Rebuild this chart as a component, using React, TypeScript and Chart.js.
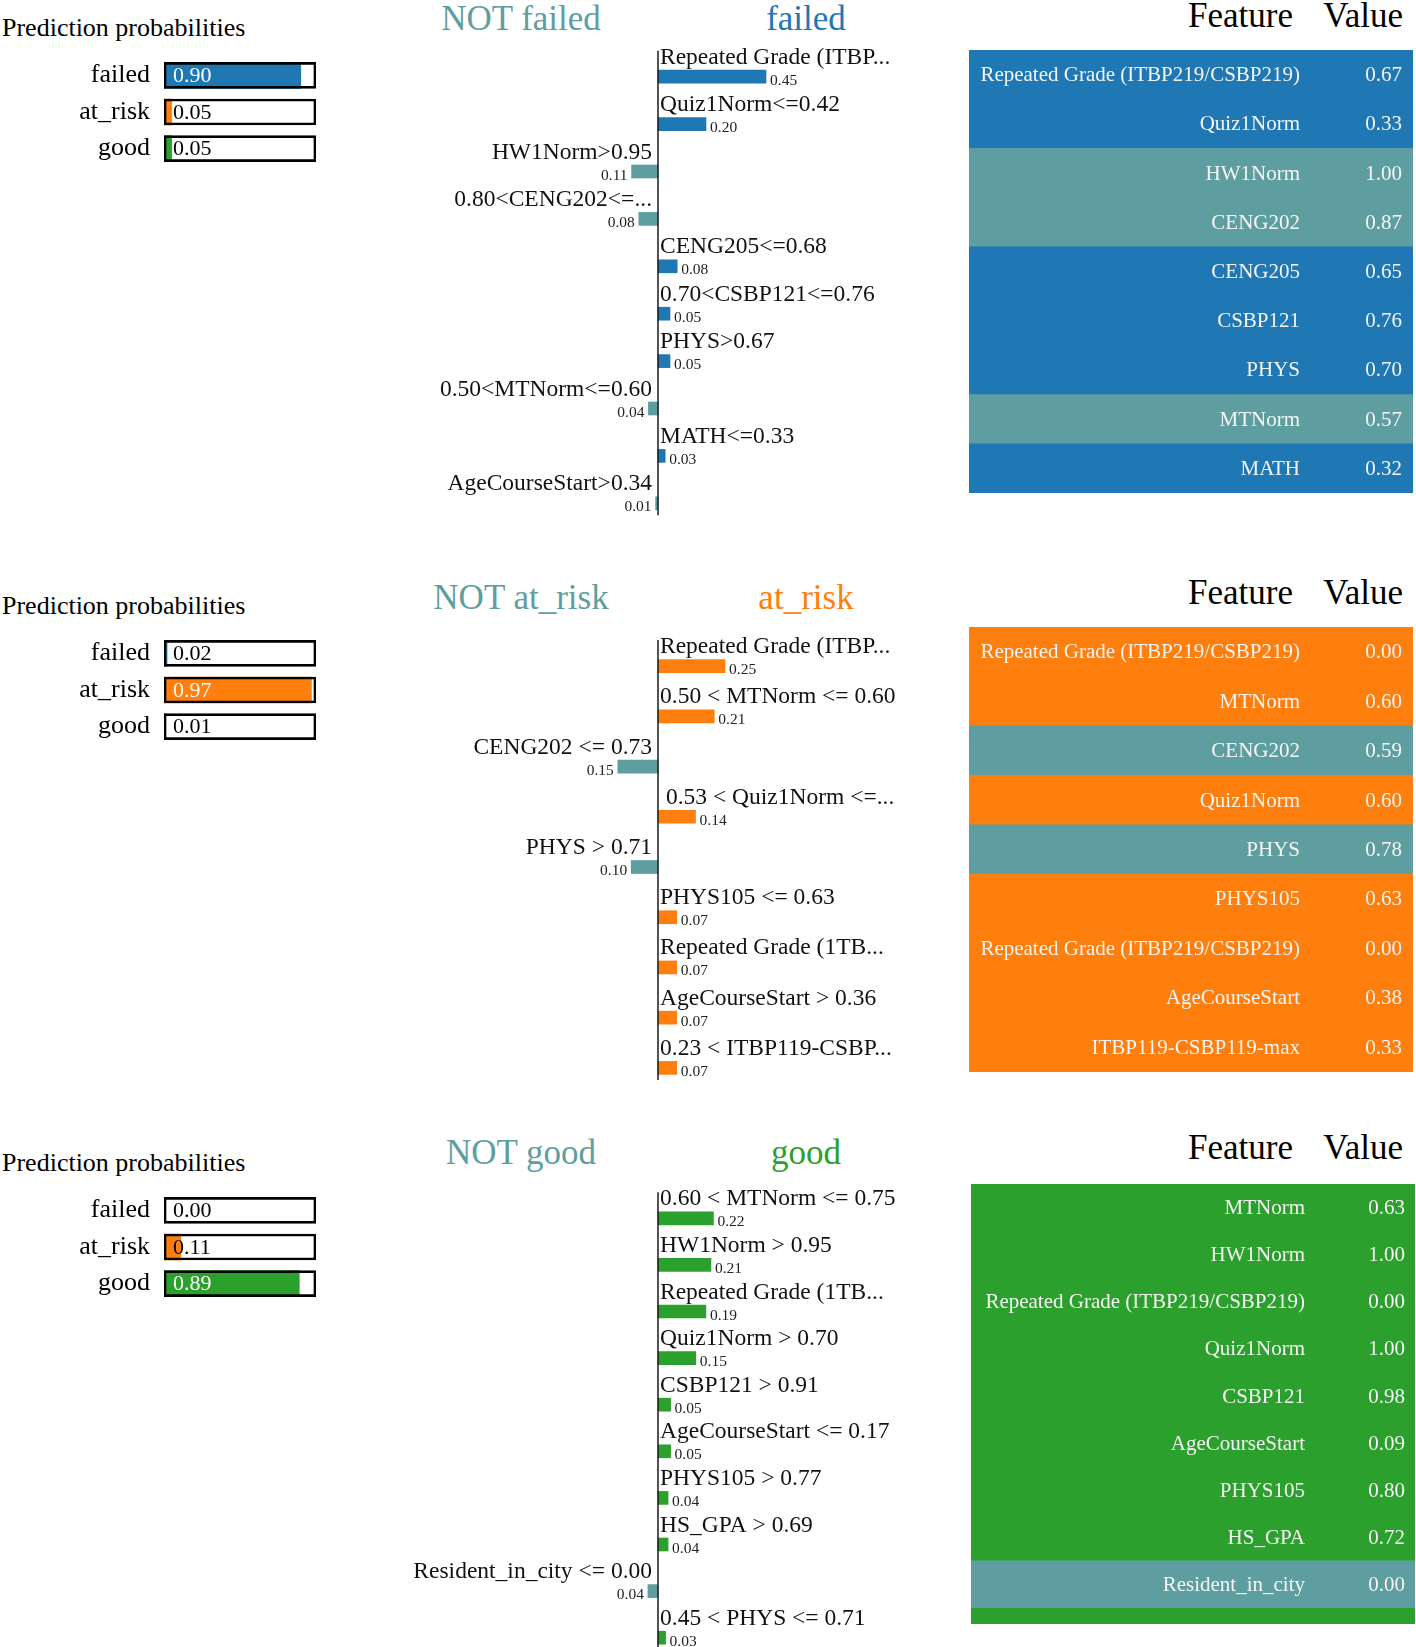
import React, { useEffect, useRef } from 'react';
import { Chart, registerables } from 'chart.js';

Chart.register(...registerables);

const SERIF = '"Liberation Serif", "Times New Roman", serif';
const NOT_COLOR = '#5f9ea0';

// ---------- data ----------
const classNames = ['failed', 'at_risk', 'good'];
const classColors = ['#1f77b4', '#ff7f0e', '#2ca02c'];

// Panel 1 (explaining "failed")
const probs1 = [0.9, 0.05, 0.05];
const expLabels1 = [
  'Repeated Grade (ITBP...',
  'Quiz1Norm<=0.42',
  'HW1Norm>0.95',
  '0.80<CENG202<=...',
  'CENG205<=0.68',
  '0.70<CSBP121<=0.76',
  'PHYS>0.67',
  '0.50<MTNorm<=0.60',
  'MATH<=0.33',
  'AgeCourseStart>0.34',
];
const expWeights1 = [0.45, 0.2, -0.11, -0.08, 0.08, 0.05, 0.05, -0.04, 0.03, -0.01];
const tableFeatures1 = [
  'Repeated Grade (ITBP219/CSBP219)',
  'Quiz1Norm',
  'HW1Norm',
  'CENG202',
  'CENG205',
  'CSBP121',
  'PHYS',
  'MTNorm',
  'MATH',
];
const tableValues1 = [0.67, 0.33, 1.0, 0.87, 0.65, 0.76, 0.7, 0.57, 0.32];

// Panel 2 (explaining "at_risk")
const probs2 = [0.02, 0.97, 0.01];
const expLabels2 = [
  'Repeated Grade (ITBP...',
  '0.50 < MTNorm <= 0.60',
  'CENG202 <= 0.73',
  ' 0.53 < Quiz1Norm <=...',
  'PHYS > 0.71',
  'PHYS105 <= 0.63',
  'Repeated Grade (1TB...',
  'AgeCourseStart > 0.36',
  '0.23 < ITBP119-CSBP...',
];
const expWeights2 = [0.25, 0.21, -0.15, 0.14, -0.1, 0.07, 0.07, 0.07, 0.07];
const tableFeatures2 = [
  'Repeated Grade (ITBP219/CSBP219)',
  'MTNorm',
  'CENG202',
  'Quiz1Norm',
  'PHYS',
  'PHYS105',
  'Repeated Grade (ITBP219/CSBP219)',
  'AgeCourseStart',
  'ITBP119-CSBP119-max',
];
const tableValues2 = [0.0, 0.6, 0.59, 0.6, 0.78, 0.63, 0.0, 0.38, 0.33];

// Panel 3 (explaining "good")
const probs3 = [0.0, 0.11, 0.89];
const expLabels3 = [
  '0.60 < MTNorm <= 0.75',
  'HW1Norm > 0.95',
  'Repeated Grade (1TB...',
  'Quiz1Norm > 0.70',
  'CSBP121 > 0.91',
  'AgeCourseStart <= 0.17',
  'PHYS105 > 0.77',
  'HS_GPA > 0.69',
  'Resident_in_city <= 0.00',
  '0.45 < PHYS <= 0.71',
];
const expWeights3 = [0.22, 0.21, 0.19, 0.15, 0.05, 0.05, 0.04, 0.04, -0.04, 0.03];
const tableFeatures3 = [
  'MTNorm',
  'HW1Norm',
  'Repeated Grade (ITBP219/CSBP219)',
  'Quiz1Norm',
  'CSBP121',
  'AgeCourseStart',
  'PHYS105',
  'HS_GPA',
  'Resident_in_city',
];
const tableValues3 = [0.63, 1.0, 0.0, 1.0, 0.98, 0.09, 0.8, 0.72, 0.0];

// ---------- chart builders ----------
function makeProbConfig(probs: number[]) {
  const probPlugin = {
    id: 'probText',
    afterDatasetsDraw(chart: any) {
      const ctx = chart.ctx;
      const meta = chart.getDatasetMeta(0);
      ctx.save();
      ctx.font = `22px ${SERIF}`;
      ctx.textBaseline = 'middle';
      ctx.textAlign = 'left';
      meta.data.forEach((bar: any, i: number) => {
        const p = bar.getProps(['base', 'y'], true);
        ctx.fillStyle = probs[i] > 0.5 ? '#ffffff' : '#000000';
        ctx.fillText(probs[i].toFixed(2), p.base + 9, p.y + 1);
      });
      ctx.restore();
    },
  };
  return {
    type: 'bar',
    data: {
      labels: classNames,
      datasets: [
        {
          data: probs,
          backgroundColor: classColors,
          barThickness: 26,
          grouped: false,
          order: 1,
        },
        {
          data: classNames.map(() => 1),
          backgroundColor: 'rgba(0,0,0,0)',
          borderColor: '#000000',
          borderWidth: 2,
          borderSkipped: false,
          barThickness: 26,
          grouped: false,
          order: 0,
        },
      ],
    },
    options: {
      indexAxis: 'y',
      responsive: false,
      animation: false,
      devicePixelRatio: 1,
      layout: { padding: { left: 0, right: 14, top: 0, bottom: 0 } },
      plugins: { legend: { display: false }, tooltip: { enabled: false } },
      scales: {
        x: { display: false, min: 0, max: 1 },
        y: {
          afterFit: (s: any) => {
            s.width = 164;
            s.paddingTop = 0;
            s.paddingBottom = 0;
          },
          grid: { display: false, drawTicks: false },
          border: { display: false },
          ticks: { font: { family: SERIF, size: 26 }, color: '#000', padding: 14 },
        },
      },
    },
    plugins: [probPlugin],
  };
}

function makeExpConfig(labels: string[], weights: number[], classIdx: number, range: number, padTop: number) {
  const posColor = classColors[classIdx];
  const expPlugin = {
    id: 'expText',
    afterDatasetsDraw(chart: any) {
      const ctx = chart.ctx;
      const meta = chart.getDatasetMeta(0);
      const x0 = chart.scales.x.getPixelForValue(0);
      ctx.save();
      const first = meta.data[0].y;
      const last = meta.data[meta.data.length - 1].y;
      ctx.strokeStyle = '#1a1a1a';
      ctx.lineWidth = 1.5;
      ctx.beginPath();
      ctx.moveTo(x0, first - 26);
      ctx.lineTo(x0, last + 12);
      ctx.stroke();
      meta.data.forEach((bar: any, i: number) => {
        const p = bar.getProps(['x', 'y', 'base'], true);
        const w = weights[i];
        ctx.fillStyle = '#111111';
        ctx.textBaseline = 'alphabetic';
        ctx.font = `23.5px ${SERIF}`;
        if (w >= 0) {
          ctx.textAlign = 'left';
          ctx.fillText(labels[i], x0 + 2, p.y - 13);
        } else {
          ctx.textAlign = 'right';
          ctx.fillText(labels[i], x0 - 6, p.y - 13);
        }
        ctx.font = `15.5px ${SERIF}`;
        ctx.fillStyle = '#222222';
        const txt = Math.abs(w).toFixed(2);
        if (w >= 0) {
          ctx.textAlign = 'left';
          ctx.fillText(txt, p.x + 4, p.y + 8);
        } else {
          ctx.textAlign = 'right';
          ctx.fillText(txt, p.x - 4, p.y + 8);
        }
      });
      ctx.restore();
    },
  };
  return {
    type: 'bar',
    data: {
      labels,
      datasets: [
        {
          data: weights,
          backgroundColor: weights.map((w) => (w >= 0 ? posColor : NOT_COLOR)),
          barThickness: 13,
        },
      ],
    },
    options: {
      indexAxis: 'y',
      responsive: false,
      animation: false,
      devicePixelRatio: 1,
      layout: { padding: { left: 0, right: 0, top: padTop, bottom: 0 } },
      plugins: { legend: { display: false }, tooltip: { enabled: false } },
      scales: {
        x: { display: false, min: -range, max: range },
        y: { display: false },
      },
    },
    plugins: [expPlugin],
  };
}

function makeTableConfig(
  features: string[],
  values: number[],
  weights: number[],
  classIdx: number,
  nameRight: number,
  valueRight: number,
  padBottom: number
) {
  const posColor = classColors[classIdx];
  const tablePlugin = {
    id: 'tableText',
    beforeDraw(chart: any) {
      const ctx = chart.ctx;
      ctx.save();
      ctx.fillStyle = posColor;
      ctx.fillRect(0, 0, chart.width, chart.height);
      ctx.restore();
    },
    afterDatasetsDraw(chart: any) {
      const ctx = chart.ctx;
      const meta = chart.getDatasetMeta(0);
      ctx.save();
      ctx.font = `21px ${SERIF}`;
      ctx.fillStyle = '#f5f5f5';
      ctx.textBaseline = 'middle';
      ctx.textAlign = 'right';
      meta.data.forEach((bar: any, i: number) => {
        const y = bar.getProps(['y'], true).y;
        ctx.fillText(features[i], nameRight, y + 1, 320);
        ctx.fillText(values[i].toFixed(2), valueRight, y + 1);
      });
      ctx.restore();
    },
  };
  return {
    type: 'bar',
    data: {
      labels: features,
      datasets: [
        {
          data: features.map(() => 1),
          backgroundColor: features.map((_, i) => (weights[i] >= 0 ? posColor : NOT_COLOR)),
          barPercentage: 1,
          categoryPercentage: 1,
        },
      ],
    },
    options: {
      indexAxis: 'y',
      responsive: false,
      animation: false,
      devicePixelRatio: 1,
      layout: { padding: { left: 0, right: 0, top: 0, bottom: padBottom } },
      plugins: { legend: { display: false }, tooltip: { enabled: false } },
      scales: {
        x: { display: false, min: 0, max: 1 },
        y: { display: false },
      },
    },
    plugins: [tablePlugin],
  };
}

// ---------- components ----------
function ChartCanvas({ x, y, w, h, make }: { x: number; y: number; w: number; h: number; make: () => any }) {
  const ref = useRef<HTMLCanvasElement>(null);
  useEffect(() => {
    const c = ref.current;
    if (!c) return;
    const chart = new Chart(c, make());
    return () => chart.destroy();
  }, []);
  return (
    <canvas
      ref={ref}
      width={w}
      height={h}
      style={{ position: 'absolute', left: x, top: y, width: w, height: h, display: 'block' }}
    />
  );
}

function Label({
  text,
  x,
  cy,
  size,
  color = '#000',
  align = 'left',
}: {
  text: string;
  x: number;
  cy: number;
  size: number;
  color?: string;
  align?: 'left' | 'right' | 'center';
}) {
  const style: any = {
    position: 'absolute',
    top: cy - size / 2,
    lineHeight: `${size}px`,
    fontSize: size,
    fontFamily: SERIF,
    color,
    whiteSpace: 'nowrap',
  };
  if (align === 'left') style.left = x;
  else if (align === 'right') style.right = 1416 - x;
  else {
    style.left = x;
    style.transform = 'translateX(-50%)';
  }
  return <div style={style}>{text}</div>;
}

type PanelProps = {
  probs: number[];
  expLabels: string[];
  expWeights: number[];
  tableFeatures: string[];
  tableValues: number[];
  classIdx: number;
  probTitleY: number;
  probTop: number;
  headY: number;
  expTop: number;
  expSpacing: number;
  pxPerUnit: number;
  featHeadY: number;
  tableX: number;
  tableY: number;
  tableH: number;
  tableW: number;
  nameRight: number;
  valueRight: number;
  padBottom: number;
};

function Panel(p: PanelProps) {
  const expLeft = 358;
  const expWidth = 600;
  const padTop = 34;
  const range = expWidth / 2 / p.pxPerUnit;
  return (
    <>
      <Label text="Prediction probabilities" x={2} cy={p.probTitleY} size={26} />
      <ChartCanvas x={0} y={p.probTop} w={330} h={110} make={() => makeProbConfig(p.probs)} />
      <Label text={`NOT ${classNames[p.classIdx]}`} x={521} cy={p.headY} size={35} color={NOT_COLOR} align="center" />
      <Label text={classNames[p.classIdx]} x={806} cy={p.headY} size={35} color={classColors[p.classIdx]} align="center" />
      <ChartCanvas
        x={expLeft}
        y={p.expTop - padTop}
        w={expWidth}
        h={Math.round(p.expSpacing * p.expLabels.length) + padTop}
        make={() => makeExpConfig(p.expLabels, p.expWeights, p.classIdx, range, padTop)}
      />
      <Label text="Feature" x={1293} cy={p.featHeadY} size={35} align="right" />
      <Label text="Value" x={1403} cy={p.featHeadY} size={35} align="right" />
      <ChartCanvas
        x={p.tableX}
        y={p.tableY}
        w={p.tableW}
        h={p.tableH}
        make={() =>
          makeTableConfig(p.tableFeatures, p.tableValues, p.expWeights, p.classIdx, p.nameRight, p.valueRight, p.padBottom)
        }
      />
    </>
  );
}

export default function App() {
  return (
    <div
      style={{
        position: 'absolute',
        left: 0,
        top: 0,
        width: 1416,
        height: 1647,
        overflow: 'hidden',
        background: '#ffffff',
      }}
    >
      <Panel
        probs={probs1}
        expLabels={expLabels1}
        expWeights={expWeights1}
        tableFeatures={tableFeatures1}
        tableValues={tableValues1}
        classIdx={0}
        probTitleY={28}
        probTop={57}
        headY={18}
        expTop={53}
        expSpacing={47.4}
        pxPerUnit={240}
        featHeadY={15}
        tableX={969}
        tableY={50}
        tableW={444}
        tableH={443}
        nameRight={331}
        valueRight={433}
        padBottom={0}
      />
      <Panel
        probs={probs2}
        expLabels={expLabels2}
        expWeights={expWeights2}
        tableFeatures={tableFeatures2}
        tableValues={tableValues2}
        classIdx={1}
        probTitleY={606}
        probTop={635}
        headY={597}
        expTop={641}
        expSpacing={50.2}
        pxPerUnit={268}
        featHeadY={592}
        tableX={969}
        tableY={627}
        tableW={444}
        tableH={445}
        nameRight={331}
        valueRight={433}
        padBottom={0}
      />
      <Panel
        probs={probs3}
        expLabels={expLabels3}
        expWeights={expWeights3}
        tableFeatures={tableFeatures3}
        tableValues={tableValues3}
        classIdx={2}
        probTitleY={1163}
        probTop={1192}
        headY={1152}
        expTop={1195}
        expSpacing={46.6}
        pxPerUnit={252}
        featHeadY={1147}
        tableX={971}
        tableY={1184}
        tableW={444}
        tableH={440}
        nameRight={334}
        valueRight={434}
        padBottom={16}
      />
    </div>
  );
}
